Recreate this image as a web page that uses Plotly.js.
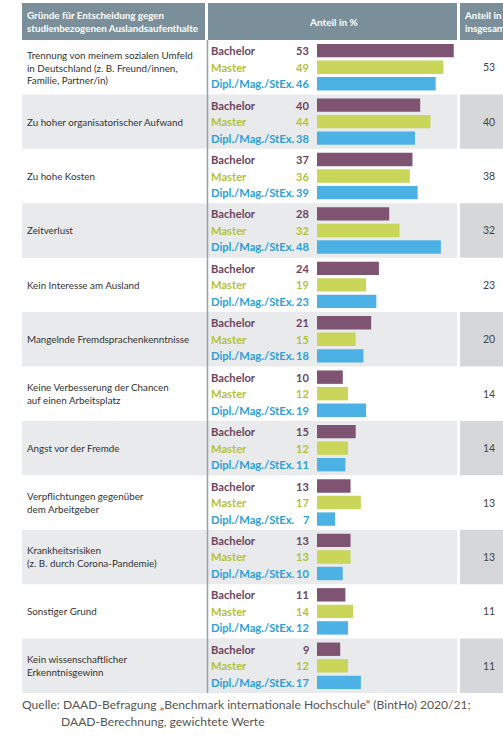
<!DOCTYPE html>
<html>
<head>
<meta charset="utf-8">
<script src="https://cdn.plot.ly/plotly-3.0.1.min.js"></script>
<style>html,body{margin:0;padding:0;background:#fff;}#chart{width:503px;height:749px;}</style>
</head>
<body>
<div id="chart"></div>
<script>
// ---- data ----
const categories = [
  "Trennung von meinem sozialen Umfeld<br>in Deutschland (z. B. Freund/innen,<br>Familie, Partner/in)",
  "Zu hoher organisatorischer Aufwand",
  "Zu hohe Kosten",
  "Zeitverlust",
  "Kein Interesse am Ausland",
  "Mangelnde Fremdsprachenkenntnisse",
  "Keine Verbesserung der Chancen<br>auf einen Arbeitsplatz",
  "Angst vor der Fremde",
  "Verpflichtungen gegenüber<br>dem Arbeitgeber",
  "Krankheitsrisiken<br>(z. B. durch Corona-Pandemie)",
  "Sonstiger Grund",
  "Kein wissenschaftlicher<br>Erkenntnisgewinn"
];
const seriesNames = ["Bachelor", "Master", "Dipl./Mag./StEx."];
const bachelor = [53, 40, 37, 28, 24, 21, 10, 15, 13, 13, 11, 9];
const master   = [49, 44, 36, 32, 19, 15, 12, 12, 17, 13, 14, 12];
const dipl     = [46, 38, 39, 48, 23, 18, 19, 11, 7, 10, 12, 17];
const total    = [53, 40, 38, 32, 23, 20, 14, 14, 13, 13, 11, 11];
const headerLeft = "Gründe für Entscheidung gegen<br>studienbezogenen Auslandsaufenthalte";
const headerMid = "Anteil in %";
const headerRight = "Anteil in<br>insgesamt";
const sourceLine1 = "Quelle: DAAD-Befragung „Benchmark internationale Hochschule“ (BintHo) 2020/21;";
const sourceLine2 = "DAAD-Berechnung, gewichtete Werte";

// ---- styling ----
const W = 503, H = 749;
const FONT = 'Lato, "Noto Sans", sans-serif';
const barColors = ["#7e5472", "#c9d65a", "#4cb2e6"];
const labelColors = ["#6b4560", "#b3c23a", "#2a9fda"];
const headerColor = "#7a8f99";
const greyBand = "#e9eaeb";
const greyCell = "#d6d7d8";
const px = v => v / W;
const py = v => 1 - v / H;
const tableTop = 40, tableBot = 693;
const rowOff = 0.304;

const seriesVals = [bachelor, master, dipl];
const traces = seriesVals.map((vals, k) => ({
  type: "bar",
  orientation: "h",
  x: vals,
  y: categories,
  name: seriesNames[k],
  marker: {color: barColors[k], line: {width: 0}},
  hoverinfo: "skip",
  showlegend: false
}));

const shapes = [];
const annotations = [];

// header blocks
[[22, 205], [208, 457], [460, 503]].forEach(([a, b]) => {
  shapes.push({type: "rect", xref: "paper", yref: "paper", x0: px(a), x1: px(b),
    y0: py(tableTop), y1: py(3), fillcolor: headerColor, line: {width: 0}, layer: "below"});
});

// group bands
categories.forEach((c, g) => {
  if (g % 2 === 1) {
    shapes.push({type: "rect", xref: "paper", yref: "y", x0: px(22), x1: px(457),
      y0: g - 0.5, y1: g + 0.5, fillcolor: greyBand, line: {width: 0}, layer: "below"});
    shapes.push({type: "rect", xref: "paper", yref: "y", x0: px(460), x1: px(503),
      y0: g - 0.5, y1: g + 0.5, fillcolor: greyCell, line: {width: 0}, layer: "below"});
  }
  annotations.push({xref: "paper", yref: "y", x: px(25), y: g, text: c, showarrow: false,
    xanchor: "left", yanchor: "middle", align: "left",
    font: {family: FONT, size: 9.8, color: "#333333"}});
  annotations.push({xref: "paper", yref: "y", x: px(489), y: g, text: String(total[g]), showarrow: false,
    xanchor: "center", yanchor: "middle",
    font: {family: FONT, size: 10.5, color: "#444"}});
  seriesVals.forEach((vals, k) => {
    const yy = g + (k - 1) * rowOff;
    annotations.push({xref: "paper", yref: "y", x: px(209), y: yy, text: "<b>" + seriesNames[k] + "</b>",
      showarrow: false, xanchor: "left", yanchor: "middle",
      font: {family: FONT, size: 11.2, color: labelColors[k]}});
    annotations.push({xref: "paper", yref: "y", x: px(311), y: yy, text: "<b>" + vals[g] + "</b>",
      showarrow: false, xanchor: "right", yanchor: "middle",
      font: {family: FONT, size: 11, color: labelColors[k]}});
  });
});

// vertical separator
shapes.push({type: "line", xref: "paper", yref: "paper", x0: px(207.5), x1: px(207.5),
  y0: py(tableBot), y1: py(tableTop), line: {color: "#8ea3ad", width: 1.5}, layer: "above"});

// header texts
annotations.push({xref: "paper", yref: "paper", x: px(25), y: py(21.5), text: "<b>" + headerLeft + "</b>", showarrow: false,
  xanchor: "left", yanchor: "middle", align: "left", font: {family: FONT, size: 9.8, color: "#ffffff"}});
annotations.push({xref: "paper", yref: "paper", x: px(333), y: py(22), text: "<b>" + headerMid + "</b>", showarrow: false,
  xanchor: "center", yanchor: "middle", font: {family: FONT, size: 10, color: "#ffffff"}});
annotations.push({xref: "paper", yref: "paper", x: px(462), y: py(21.5), text: "<b>" + headerRight + "</b>", showarrow: false,
  xanchor: "left", yanchor: "middle", align: "left", font: {family: FONT, size: 9.8, color: "#ffffff"}});

// source
annotations.push({xref: "paper", yref: "paper", x: px(20), y: py(704), text: sourceLine1, showarrow: false,
  xanchor: "left", yanchor: "middle", font: {family: FONT, size: 12.1, color: "#555"}});
annotations.push({xref: "paper", yref: "paper", x: px(59), y: py(721), text: sourceLine2, showarrow: false,
  xanchor: "left", yanchor: "middle", font: {family: FONT, size: 12.1, color: "#555"}});

const layout = {
  width: W, height: H,
  margin: {l: 0, r: 0, t: 0, b: 0},
  paper_bgcolor: "#ffffff",
  plot_bgcolor: "rgba(0,0,0,0)",
  barmode: "group",
  bargap: 0.088,
  bargroupgap: 0.19,
  showlegend: false,
  xaxis: {domain: [px(317), px(458)], range: [0, 141 / 2.58], visible: false, fixedrange: true},
  yaxis: {type: "category", domain: [py(tableBot), py(tableTop)], range: [11.5, -0.5],
    autorange: false, visible: false, fixedrange: true},
  shapes: shapes,
  annotations: annotations
};

Plotly.newPlot("chart", traces, layout, {staticPlot: true, displayModeBar: false});
</script>
</body>
</html>
